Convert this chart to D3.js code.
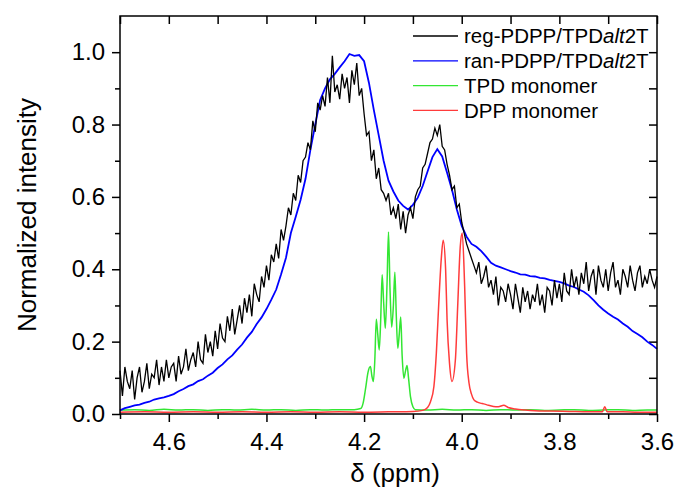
<!DOCTYPE html>
<html>
<head>
<meta charset="utf-8">
<script src="https://cdn.jsdelivr.net/npm/d3@7/dist/d3.min.js"></script>
<style>
    body { margin: 0; background: #fff; }
    text { font-family: "Liberation Sans", Arial, sans-serif; fill: #000; }
</style>
</head>
<body>
<svg id="chart" width="675" height="493"></svg>
<script>
/* ======================== DATA ========================= */
/* ======================================================= */

const ppmMajorTicks = [4.6, 4.4, 4.2, 4.0, 3.8, 3.6];
const ppmMinorTicks = [4.7, 4.5, 4.3, 4.1, 3.9, 3.7];
const yMajorTicks   = [0.0, 0.2, 0.4, 0.6, 0.8, 1.0];
const yMinorTicks   = [0.1, 0.3, 0.5, 0.7, 0.9];

// reg-PDPP/TPDalt2T, one value every 0.005 ppm from 4.700 down to 3.600
const regStart = 4.7, regStep = 0.005;
const regValues = [
    0.12,0.05,0.13,0.09,0.07,0.12,0.04,0.10,0.13,0.06,
    0.09,0.14,0.07,0.11,0.10,0.15,0.08,0.13,0.09,0.15,
    0.10,0.13,0.14,0.09,0.16,0.11,0.13,0.18,0.12,0.15,
    0.17,0.13,0.20,0.15,0.14,0.22,0.17,0.20,0.16,0.23,
    0.18,0.25,0.21,0.20,0.27,0.23,0.29,0.22,0.26,0.30,
    0.25,0.32,0.28,0.33,0.27,0.36,0.33,0.31,0.38,0.35,
    0.41,0.37,0.44,0.42,0.47,0.43,0.51,0.48,0.52,0.57,
    0.55,0.61,0.59,0.66,0.64,0.70,0.71,0.75,0.73,0.81,
    0.78,0.86,0.84,0.88,0.85,0.93,0.86,0.99,0.89,0.91,
    0.87,0.94,0.90,0.93,0.86,0.95,0.91,0.97,0.88,0.90,
    0.83,0.77,0.78,0.70,0.73,0.65,0.68,0.62,0.61,0.59,
    0.61,0.55,0.57,0.54,0.58,0.51,0.56,0.50,0.55,0.57,
    0.54,0.60,0.62,0.63,0.68,0.69,0.72,0.75,0.76,0.79,
    0.77,0.80,0.74,0.73,0.69,0.66,0.62,0.63,0.57,0.58,
    0.53,0.50,0.47,0.45,0.43,0.41,0.39,0.42,0.36,0.38,
    0.41,0.35,0.37,0.33,0.38,0.30,0.35,0.34,0.31,0.36,
    0.33,0.29,0.36,0.32,0.28,0.35,0.31,0.34,0.29,0.33,
    0.31,0.36,0.30,0.33,0.28,0.35,0.34,0.30,0.37,0.32,
    0.36,0.31,0.39,0.34,0.33,0.40,0.35,0.38,0.33,0.39,
    0.36,0.42,0.34,0.38,0.40,0.33,0.41,0.37,0.35,0.40,
    0.34,0.39,0.42,0.35,0.37,0.33,0.40,0.38,0.35,0.41,
    0.37,0.34,0.39,0.41,0.35,0.38,0.36,0.40,0.37,0.35,
    0.38
];

// ran-PDPP/TPDalt2T, one value every 0.01 ppm from 4.70 down to 3.60
const ranStart = 4.7, ranStep = 0.01;
const ranValues = [
    0.010,0.016,0.020,0.024,0.026,0.031,0.034,0.040,0.043,0.046,
    0.050,0.055,0.063,0.069,0.077,0.082,0.091,0.096,0.106,0.114,
    0.127,0.137,0.151,0.162,0.178,0.192,0.211,0.227,0.249,0.267,
    0.290,0.316,0.344,0.386,0.432,0.500,0.545,0.592,0.650,0.730,
    0.800,0.868,0.900,0.925,0.940,0.958,0.975,0.995,0.990,0.992,
    0.975,0.915,0.840,0.770,0.700,0.645,0.615,0.590,0.575,0.565,
    0.578,0.598,0.630,0.670,0.710,0.732,0.712,0.667,0.620,0.565,
    0.520,0.490,0.470,0.462,0.450,0.435,0.418,0.410,0.405,0.400,
    0.395,0.391,0.386,0.385,0.381,0.380,0.376,0.375,0.371,0.368,
    0.365,0.361,0.355,0.351,0.344,0.338,0.328,0.315,0.300,0.288,
    0.278,0.269,0.261,0.250,0.241,0.229,0.221,0.212,0.200,0.191,
    0.180
];

// TPD monomer
const tpdPpm = [
    4.70, 4.67, 4.64, 4.61, 4.58, 4.55, 4.52, 4.49, 4.46, 4.43, 4.40, 4.37, 4.34, 4.31, 4.28, 4.25, 4.22,
    4.207, 4.202, 4.197, 4.192, 4.187, 4.184, 4.181, 4.178, 4.175, 4.172, 4.169, 4.166, 4.163, 4.160,
    4.1565, 4.153, 4.150, 4.147, 4.1435, 4.140, 4.137, 4.134, 4.131, 4.128, 4.125, 4.122, 4.1185,
    4.115, 4.112, 4.109, 4.105, 4.100, 4.095,
    4.07, 4.04, 4.01, 3.98, 3.95, 3.92, 3.89, 3.86, 3.83, 3.80, 3.77, 3.74, 3.71, 3.68, 3.65, 3.62, 3.60
];
const tpdValues = [
    0.011, 0.012, 0.010, 0.013, 0.011, 0.012, 0.010, 0.012, 0.011, 0.013, 0.011, 0.012, 0.010, 0.012, 0.011, 0.012, 0.012,
    0.015, 0.030, 0.070, 0.115, 0.131, 0.105, 0.090, 0.150, 0.262, 0.220, 0.177, 0.260, 0.385, 0.310,
    0.237, 0.360, 0.503, 0.350, 0.240, 0.300, 0.392, 0.270, 0.182, 0.220, 0.268, 0.160, 0.099,
    0.120, 0.134, 0.100, 0.048, 0.020, 0.012,
    0.011, 0.013, 0.011, 0.012, 0.010, 0.012, 0.011, 0.012, 0.010, 0.011, 0.012, 0.010, 0.011, 0.012, 0.010, 0.011, 0.011
];

// DPP monomer
const dppPpm = [
    4.70, 4.65, 4.60, 4.55, 4.50, 4.45, 4.40, 4.35, 4.30, 4.25, 4.20, 4.15, 4.10,
    4.080, 4.070, 4.064, 4.057, 4.052, 4.047, 4.042, 4.038, 4.033, 4.030, 4.025, 4.020,
    4.013, 4.008, 4.003, 3.999, 3.994, 3.990, 3.985, 3.980, 3.975, 3.968, 3.962, 3.955,
    3.945, 3.935, 3.925, 3.914, 3.905, 3.890, 3.870, 3.850, 3.820, 3.780, 3.740,
    3.712, 3.707, 3.702, 3.670, 3.640, 3.600
];
const dppValues = [
    0.005, 0.006, 0.005, 0.006, 0.005, 0.006, 0.005, 0.006, 0.005, 0.006, 0.005, 0.006, 0.007,
    0.010, 0.018, 0.034, 0.076, 0.168, 0.307, 0.427, 0.480, 0.400, 0.260, 0.140, 0.090,
    0.150, 0.307, 0.463, 0.500, 0.353, 0.168, 0.085, 0.055, 0.039, 0.033, 0.030, 0.028,
    0.024, 0.021, 0.020, 0.024, 0.018, 0.014, 0.011, 0.009, 0.008, 0.007, 0.006,
    0.006, 0.020, 0.006, 0.006, 0.005, 0.005
];

const seriesNames  = ["reg-PDPP/TPD|alt|2T", "ran-PDPP/TPD|alt|2T", "TPD monomer", "DPP monomer"];
const seriesColors = ["#000000", "#0000ff", "#33e633", "#ff3b3b"];

/* ===================== CHART SETUP ===================== */
/* ======================================================= */

const margin = { left: 120, right: 18, top: 16, bottom: 79 };
const svg = d3.select("#chart");
const width  = +svg.attr("width")  - margin.left - margin.right;
const height = +svg.attr("height") - margin.top  - margin.bottom;

const x = d3.scaleLinear()
            .domain([4.7, 3.6])
            .range([margin.left, margin.left + width]);
const y = d3.scaleLinear()
            .domain([0, 1.1])
            .range([margin.top + height, margin.top]);

const regData = regValues.map((v, i) => ({ ppm: regStart - i * regStep, v: v }));
const ranData = ranValues.map((v, i) => ({ ppm: ranStart - i * ranStep, v: v }));
const tpdData = tpdValues.map((v, i) => ({ ppm: tpdPpm[i], v: v }));
const dppData = dppValues.map((v, i) => ({ ppm: dppPpm[i], v: v }));

/* ======================== AXES ========================= */
/* ======================================================= */

function styleAxis(g) {
    g.select(".domain").remove();
    g.selectAll("line").attr("stroke", "#000").attr("stroke-width", 1.5);
    g.selectAll("text").attr("font-size", 24).attr("fill", "#000")
     .style("font-family", "'Liberation Sans', Arial, sans-serif");
}

svg.append("g")
   .attr("transform", `translate(0,${margin.top + height})`)
   .call(d3.axisBottom(x).tickValues(ppmMajorTicks).tickSize(8).tickPadding(11).tickFormat(d3.format(".1f")))
   .call(styleAxis);
svg.append("g")
   .attr("transform", `translate(0,${margin.top + height})`)
   .call(d3.axisBottom(x).tickValues(ppmMinorTicks).tickSize(5).tickFormat(""))
   .call(styleAxis);
svg.append("g")
   .attr("transform", `translate(0,${margin.top})`)
   .call(d3.axisTop(x).tickValues(ppmMajorTicks.concat(ppmMinorTicks)).tickSize(-8).tickFormat(""))
   .call(styleAxis);

svg.append("g")
   .attr("transform", `translate(${margin.left},0)`)
   .call(d3.axisLeft(y).tickValues(yMajorTicks).tickSize(8).tickPadding(7).tickFormat(d3.format(".1f")))
   .call(styleAxis);
svg.append("g")
   .attr("transform", `translate(${margin.left},0)`)
   .call(d3.axisLeft(y).tickValues(yMinorTicks).tickSize(5).tickFormat(""))
   .call(styleAxis);
svg.append("g")
   .attr("transform", `translate(${margin.left + width},0)`)
   .call(d3.axisRight(y).tickValues(yMajorTicks.concat(yMinorTicks)).tickSize(-8).tickFormat(""))
   .call(styleAxis);

svg.append("text")
   .attr("transform", `translate(36,${margin.top + height / 2}) rotate(-90)`)
   .attr("text-anchor", "middle")
   .attr("font-size", 26)
   .text("Normalized intensity");

svg.append("text")
   .attr("x", 395)
   .attr("y", 482)
   .attr("text-anchor", "middle")
   .attr("font-size", 26)
   .text("δ (ppm)");

/* ======================== LINES ======================== */
/* ======================================================= */

const noisyLine  = d3.line().x(d => x(d.ppm)).y(d => y(d.v));
const smoothLine = d3.line().x(d => x(d.ppm)).y(d => y(d.v)).curve(d3.curveMonotoneX);

svg.append("path").datum(tpdData)
   .attr("fill", "none").attr("stroke", seriesColors[2]).attr("stroke-width", 1.5)
   .attr("d", smoothLine);
svg.append("path").datum(dppData)
   .attr("fill", "none").attr("stroke", seriesColors[3]).attr("stroke-width", 1.5)
   .attr("d", smoothLine);
svg.append("path").datum(ranData)
   .attr("fill", "none").attr("stroke", seriesColors[1]).attr("stroke-width", 1.8)
   .attr("d", noisyLine);
svg.append("path").datum(regData)
   .attr("fill", "none").attr("stroke", seriesColors[0]).attr("stroke-width", 1.3)
   .attr("d", noisyLine);

// frame
svg.append("rect")
   .attr("x", margin.left).attr("y", margin.top)
   .attr("width", width).attr("height", height)
   .attr("fill", "none").attr("stroke", "#000").attr("stroke-width", 1.5);

/* ======================== LEGEND ======================= */
/* ======================================================= */

const legend = svg.append("g").attr("transform", "translate(413,36)");

seriesNames.forEach((name, i) => {
    let row = legend.append("g").attr("transform", `translate(0,${i * 24.8})`);
    row.append("line")
       .attr("x1", 0).attr("x2", 45)
       .attr("stroke", seriesColors[i]).attr("stroke-width", 1.3);
    let label = row.append("text")
                   .attr("x", 51)
                   .attr("dy", "0.35em")
                   .attr("font-size", 20.5);
    name.split("|").forEach((part, j) => {
        label.append("tspan")
             .attr("font-style", j === 1 ? "italic" : "normal")
             .text(part);
    });
});
</script>
</body>
</html>
